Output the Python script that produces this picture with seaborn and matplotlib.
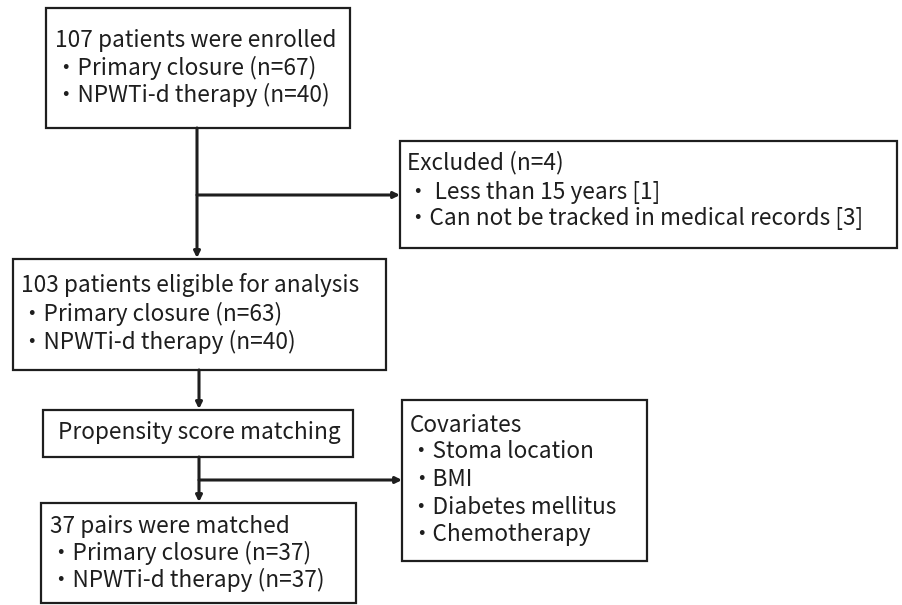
import matplotlib
matplotlib.use('Agg')
import matplotlib.pyplot as plt
import seaborn as sns
from matplotlib.patches import Rectangle

# Flowchart texts
enrolled_lines = ['107 patients were enrolled', '・Primary closure (n=67)', '・NPWTi-d therapy (n=40)']
excluded_lines = ['Excluded (n=4)', '・ Less than 15 years [1]', '・Can not be tracked in medical records [3]']
eligible_lines = ['103 patients eligible for analysis', '・Primary closure (n=63)', '・NPWTi-d therapy (n=40)']
psm_lines = ['Propensity score matching']
covariate_lines = ['Covariates', '・Stoma location', '・BMI', '・Diabetes mellitus', '・Chemotherapy']
matched_lines = ['37 pairs were matched', '・Primary closure (n=37)', '・NPWTi-d therapy (n=37)']

sns.set_theme(style='white')
plt.rcParams['font.family'] = ['Noto Sans CJK JP', 'DejaVu Sans']

INK = '#1e1e1e'
FS = 16.3

fig = plt.figure(figsize=(9.02, 6.05), dpi=100)
ax = fig.add_axes([0, 0, 1, 1])
ax.set_xlim(0, 902)
ax.set_ylim(605, 0)
ax.axis('off')


def box(x0, y0, x1, y1):
    ax.add_patch(Rectangle((x0, y0), x1 - x0, y1 - y0, fill=False,
                           edgecolor=INK, linewidth=1.6))


def lines(x, ys, texts):
    for y, t in zip(ys, texts):
        ax.text(x, y, t, fontsize=FS, color=INK, ha='left', va='center')


def arrow(x0, y0, x1, y1):
    ax.annotate('', xy=(x1, y1), xytext=(x0, y0),
                arrowprops=dict(arrowstyle='-|>', color=INK, lw=2.2,
                                mutation_scale=9, shrinkA=0, shrinkB=0))


# boxes
box(46, 8, 350, 128)
box(400, 141, 897, 248)
box(13, 259, 386, 370)
box(43, 410, 353, 457)
box(402, 400, 647, 561)
box(41, 503, 356, 603)

# connectors
arrow(197, 128, 197, 258)
arrow(197, 195, 400, 195)
arrow(199, 370, 199, 409)
arrow(199, 457, 199, 502)
arrow(199, 480, 402, 480)

# texts
lines(55, [40, 68, 95], enrolled_lines)
lines(407, [163, 193, 219], excluded_lines)
lines(21, [285, 314, 342], eligible_lines)
lines(58, [433], psm_lines)
lines(410, [425, 452, 480, 507, 535], covariate_lines)
lines(50, [526, 553, 580], matched_lines)

fig.savefig('out.png', dpi=100, facecolor='white')
